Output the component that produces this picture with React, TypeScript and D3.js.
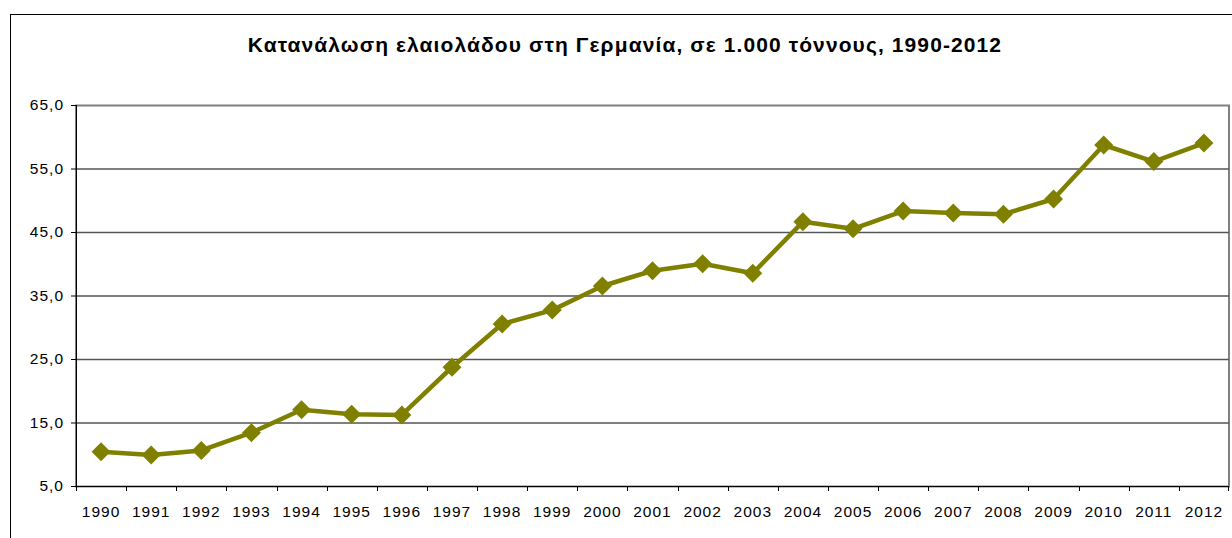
import React from "react";
import * as d3 from "d3";

const years = [
  "1990", "1991", "1992", "1993", "1994", "1995", "1996", "1997", "1998", "1999", "2000", "2001",
  "2002", "2003", "2004", "2005", "2006", "2007", "2008", "2009", "2010", "2011", "2012",
];
const consumption = [
  10.4, 9.9, 10.6, 13.4, 17.0, 16.3, 16.2, 23.7, 30.5, 32.7, 36.5, 38.9,
  40.0, 38.5, 46.6, 45.5, 48.3, 48.0, 47.8, 50.2, 58.7, 56.1, 59.0,
];
const yTicks = [5, 15, 25, 35, 45, 55, 65];
const title = "Κατανάλωση ελαιολάδου στη Γερμανία, σε 1.000 τόννους, 1990-2012";

const width = 1232;
const height = 538;
const margin = { top: 105, right: 3, bottom: 52, left: 76 };

export default function App() {
  const innerWidth = width - margin.left - margin.right;
  const innerHeight = height - margin.top - margin.bottom;

  const x = d3.scaleBand().domain(years).range([0, innerWidth]).padding(0);
  const y = d3.scaleLinear().domain([5, 65]).range([innerHeight, 0]);

  const line = d3
    .line<number>()
    .x((d, i) => x(years[i])! + x.bandwidth() / 2)
    .y(d => y(d));

  const fmt = (v: number) => v.toFixed(1).replace(".", ",");
  const diamond = d3.symbol(d3.symbolDiamond2, 230)();

  return (
    <svg
      width={width}
      height={height}
      style={{ position: "absolute", left: 0, top: 0, fontFamily: "Arial, 'Liberation Sans', sans-serif" }}
    >
      <rect x={0} y={0} width={width} height={height} fill="#fff" />
      {/* outer chart border */}
      <rect x={10.5} y={14.5} width={width} height={height} fill="none" stroke="#000" strokeWidth={1} />
      <text x={625} y={52} textAnchor="middle" fontSize={21} fontWeight="bold" letterSpacing={1.1} fill="#000">
        {title}
      </text>
      <g transform={`translate(${margin.left}, ${margin.top})`}>
        {/* plot area border */}
        <rect x={0} y={0.5} width={innerWidth} height={innerHeight} fill="none" stroke="#808080" strokeWidth={2} />
        {yTicks.slice(1, -1).map(t => (
          <line key={t} x1={0} x2={innerWidth} y1={y(t) + 0.5} y2={y(t) + 0.5} stroke="#555" strokeWidth={1.5} />
        ))}
        {/* y axis */}
        <line x1={0.5} x2={0.5} y1={0} y2={innerHeight} stroke="#000" />
        {yTicks.map(t => (
          <g key={t}>
            <line x1={-5} x2={0} y1={y(t) + 0.5} y2={y(t) + 0.5} stroke="#000" />
            <text x={-12} y={y(t)} dy="0.35em" textAnchor="end" fontSize={15.5} letterSpacing={1} fill="#000">
              {fmt(t)}
            </text>
          </g>
        ))}
        {/* x axis */}
        <line x1={0} x2={innerWidth} y1={innerHeight + 0.5} y2={innerHeight + 0.5} stroke="#000" />
        {years.map((yr, i) => (
          <g key={yr}>
            <line
              x1={Math.round(x(yr)!) + 0.5}
              x2={Math.round(x(yr)!) + 0.5}
              y1={innerHeight}
              y2={innerHeight + 5}
              stroke="#000"
            />
            <text
              x={x(yr)! + x.bandwidth() / 2}
              y={innerHeight + 31}
              textAnchor="middle"
              fontSize={15.5}
              letterSpacing={1}
              fill="#000"
            >
              {yr}
            </text>
          </g>
        ))}
        <line x1={innerWidth - 0.5} x2={innerWidth - 0.5} y1={innerHeight} y2={innerHeight + 5} stroke="#000" />
        <path d={line(consumption)!} fill="none" stroke="#808000" strokeWidth={4.5} strokeLinejoin="round" />
        {consumption.map((v, i) => (
          <path
            key={i}
            d={diamond!}
            transform={`translate(${x(years[i])! + x.bandwidth() / 2}, ${y(v)})`}
            fill="#808000"
          />
        ))}
      </g>
    </svg>
  );
}
